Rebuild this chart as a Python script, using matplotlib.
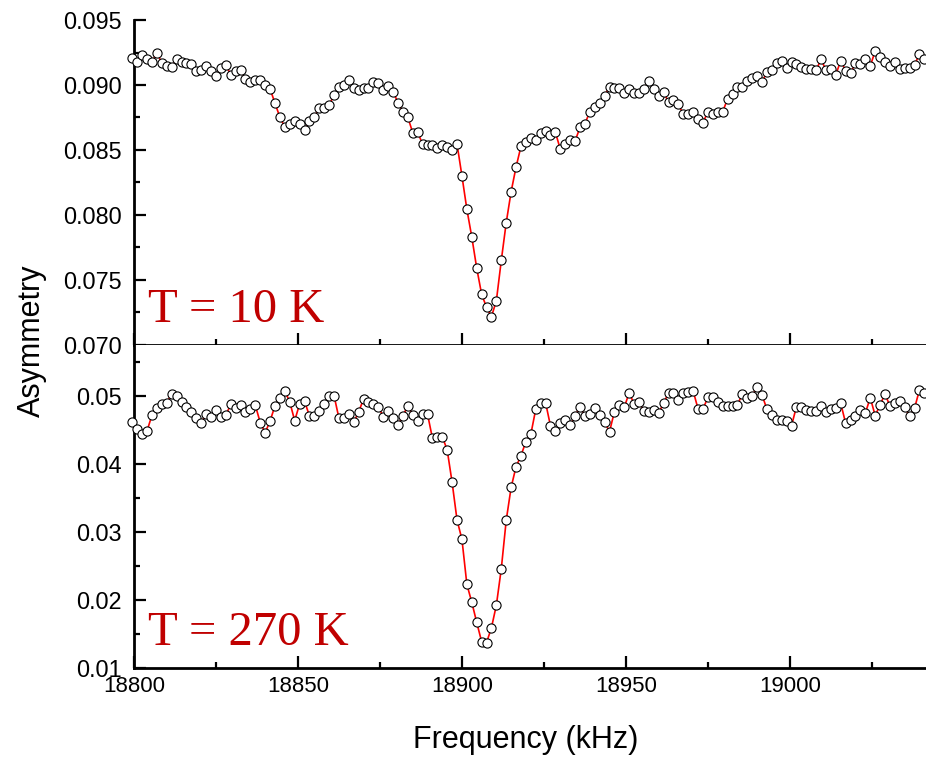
import matplotlib

matplotlib.use("Agg")
import matplotlib.pyplot as plt
import numpy as np
from matplotlib.ticker import MultipleLocator, FormatStrFormatter

# frequency grid (kHz), 1.5 kHz steps
freq_start = 18799.5
freq_step = 1.5

asym_10K = [
    0.09208, 0.09174, 0.09231, 0.09197, 0.09177, 0.09249, 0.09167, 0.09149, 0.09141, 0.09200,
    0.09179, 0.09167, 0.09159, 0.09105, 0.09115, 0.09146, 0.09105, 0.09072, 0.09128, 0.09156,
    0.09079, 0.09105, 0.09113, 0.09046, 0.09020, 0.09038, 0.09036, 0.09000, 0.08969, 0.08859,
    0.08751, 0.08677, 0.08700, 0.08723, 0.08697, 0.08654, 0.08726, 0.08756, 0.08823, 0.08826,
    0.08849, 0.08920, 0.08987, 0.09000, 0.09036, 0.08979, 0.08964, 0.08974, 0.08977, 0.09020,
    0.09013, 0.08962, 0.08992, 0.08949, 0.08864, 0.08795, 0.08751, 0.08633, 0.08636, 0.08546,
    0.08538, 0.08538, 0.08513, 0.08538, 0.08520, 0.08500, 0.08546, 0.08300, 0.08044, 0.07831,
    0.07592, 0.07390, 0.07290, 0.07218, 0.07341, 0.07651, 0.07941, 0.08180, 0.08369, 0.08528,
    0.08564, 0.08595, 0.08577, 0.08633, 0.08649, 0.08615, 0.08636, 0.08505, 0.08546, 0.08577,
    0.08569, 0.08674, 0.08702, 0.08795, 0.08828, 0.08864, 0.08918, 0.08987, 0.08974, 0.08979,
    0.08941, 0.08967, 0.08938, 0.08936, 0.08969, 0.09033, 0.08967, 0.08918, 0.08944, 0.08867,
    0.08885, 0.08851, 0.08774, 0.08777, 0.08792, 0.08736, 0.08710, 0.08795, 0.08774, 0.08795,
    0.08795, 0.08892, 0.08931, 0.08982, 0.08982, 0.09033, 0.09051, 0.09072, 0.09023, 0.09100,
    0.09115, 0.09172, 0.09185, 0.09133, 0.09179, 0.09162, 0.09136, 0.09123, 0.09123, 0.09115,
    0.09197, 0.09115, 0.09123, 0.09079, 0.09187, 0.09110, 0.09090, 0.09172, 0.09159, 0.09197,
    0.09146, 0.09261, 0.09218, 0.09179, 0.09146, 0.09174, 0.09120, 0.09128, 0.09128, 0.09156,
    0.09236, 0.09197,
]

asym_270K = [
    0.04623, 0.04510, 0.04436, 0.04490, 0.04721, 0.04828, 0.04882, 0.04902, 0.05030, 0.05000,
    0.04907, 0.04843, 0.04770, 0.04681, 0.04608, 0.04730, 0.04696, 0.04794, 0.04696, 0.04716,
    0.04878, 0.04828, 0.04863, 0.04760, 0.04804, 0.04863, 0.04608, 0.04461, 0.04632, 0.04858,
    0.04971, 0.05074, 0.04912, 0.04637, 0.04882, 0.04926, 0.04706, 0.04706, 0.04775, 0.04882,
    0.05005, 0.05005, 0.04672, 0.04672, 0.04730, 0.04613, 0.04765, 0.04956, 0.04907, 0.04878,
    0.04843, 0.04696, 0.04779, 0.04681, 0.04574, 0.04706, 0.04858, 0.04721, 0.04632, 0.04735,
    0.04735, 0.04378, 0.04402, 0.04402, 0.04206, 0.03730, 0.03177, 0.02892, 0.02230, 0.01966,
    0.01672, 0.01387, 0.01373, 0.01593, 0.01926, 0.02461, 0.03172, 0.03657, 0.03961, 0.04123,
    0.04329, 0.04436, 0.04804, 0.04892, 0.04902, 0.04559, 0.04485, 0.04598, 0.04647, 0.04574,
    0.04706, 0.04843, 0.04706, 0.04735, 0.04819, 0.04721, 0.04613, 0.04476, 0.04770, 0.04868,
    0.04833, 0.05049, 0.04878, 0.04907, 0.04779, 0.04770, 0.04794, 0.04755, 0.04892, 0.05049,
    0.05049, 0.04941, 0.05049, 0.05054, 0.05074, 0.04809, 0.04809, 0.04980, 0.04990, 0.04917,
    0.04853, 0.04853, 0.04853, 0.04868, 0.05030, 0.04966, 0.05000, 0.05137, 0.05015, 0.04804,
    0.04721, 0.04647, 0.04647, 0.04637, 0.04564, 0.04843, 0.04843, 0.04794, 0.04784, 0.04779,
    0.04858, 0.04770, 0.04809, 0.04819, 0.04892, 0.04598, 0.04647, 0.04711, 0.04794, 0.04745,
    0.04976, 0.04711, 0.04868, 0.05030, 0.04853, 0.04902, 0.04926, 0.04833, 0.04706, 0.04819,
    0.05088, 0.05049,
]

panel_labels = ["T = 10 K", "T = 270 K"]

freq = freq_start + freq_step * np.arange(len(asym_10K))

plt.rcParams.update({"font.family": ["Liberation Sans", "DejaVu Sans"]})

fig = plt.figure(figsize=(9.26, 7.58), dpi=100)
ax_top = fig.add_axes([0.1447, 0.5449, 0.8553, 0.4287])
ax_bot = fig.add_axes([0.1447, 0.1187, 0.8553, 0.4262])

for ax, y, label in [(ax_top, asym_10K, panel_labels[0]), (ax_bot, asym_270K, panel_labels[1])]:
    ax.plot(freq, y, color="#ff0000", linewidth=1.2, marker="o", markersize=6.6,
            markerfacecolor="white", markeredgecolor="black", markeredgewidth=0.8,
            clip_on=False, zorder=3)
    ax.set_xlim(18800, 19041.5)
    ax.xaxis.set_major_locator(MultipleLocator(50))
    ax.xaxis.set_minor_locator(MultipleLocator(25))
    for side in ["top", "right"]:
        ax.spines[side].set_visible(False)
    for side in ["left", "bottom"]:
        ax.spines[side].set_linewidth(2.0)
    ax.tick_params(which="major", direction="in", length=8.5, width=1.6, labelsize=16)
    ax.tick_params(which="minor", direction="in", length=4.3, width=1.6)
    ax.tick_params(axis="y", which="major", pad=9, labelsize=16.8)
    ax.tick_params(axis="x", which="major", pad=6)
    ax.text(0.018, 0.072, label, transform=ax.transAxes, family="Liberation Serif",
            fontsize=35, color="#c00000", ha="left", va="baseline")

ax_top.set_ylim(0.070, 0.095)
ax_top.yaxis.set_major_locator(MultipleLocator(0.005))
ax_top.yaxis.set_minor_locator(MultipleLocator(0.0025))
ax_top.yaxis.set_major_formatter(FormatStrFormatter("%.3f"))
ax_top.tick_params(axis="x", labelbottom=False)

ax_bot.set_ylim(0.01, 0.0575)
ax_bot.yaxis.set_major_locator(MultipleLocator(0.01))
ax_bot.yaxis.set_minor_locator(MultipleLocator(0.005))
ax_bot.yaxis.set_major_formatter(FormatStrFormatter("%.2f"))

fig.text(0.034, 0.55, "Asymmetry", rotation=90, fontsize=22, ha="center", va="center")
fig.text(0.568, 0.024, "Frequency (kHz)", fontsize=22, ha="center", va="center")

fig.savefig("out.png", dpi=100)
